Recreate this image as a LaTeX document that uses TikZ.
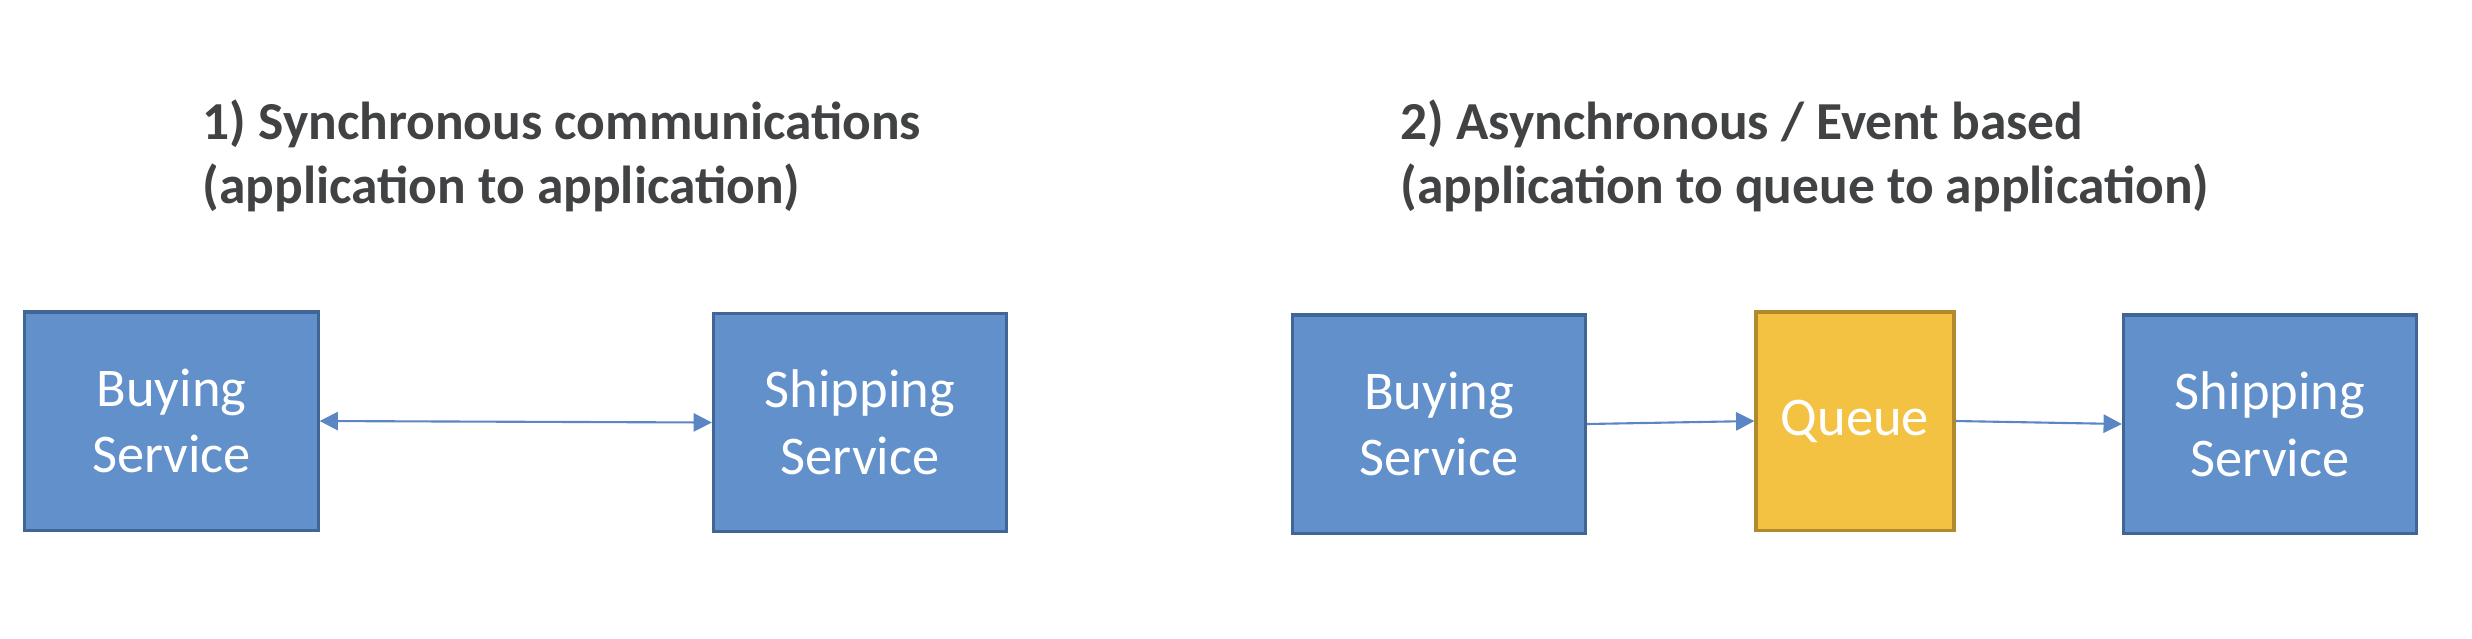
\documentclass[tikz,border=0pt]{standalone}
\usepackage{fontspec}
\setmainfont{Carlito}
\usepackage{tikz}
\usetikzlibrary{arrows.meta,positioning}
\definecolor{svcblue}{RGB}{98,144,203}
\definecolor{svcedge}{RGB}{65,101,148}
\definecolor{qyellow}{RGB}{244,194,67}
\definecolor{qedge}{RGB}{176,138,44}
\definecolor{arrblue}{RGB}{91,134,196}
\definecolor{titlegray}{RGB}{64,66,68}
\tikzset{
  svcnode/.style={rectangle,draw=svcedge,line width=0.9pt,fill=svcblue,text=white,
    minimum width=2.93cm,minimum height=2.18cm,align=center,inner sep=0pt,
    font=\fontsize{15.5}{19}\selectfont},
  queuenode/.style={svcnode,draw=qedge,fill=qyellow,minimum width=1.98cm},
  titlenode/.style={anchor=west,align=left,text=titlegray,inner sep=0pt,
    font=\fontsize{15.2}{18}\selectfont\bfseries},
  msgarrow/.style={-{Triangle[length=5.2pt,width=5.2pt]},line width=0.6pt,draw=arrblue}
}

\begin{document}
\begin{tikzpicture}[x=0.01cm,y=-0.01cm]
  \useasboundingbox (0,0) rectangle (2472,638);
  % 1) synchronous
  \node[titlenode] (title1) at (202,156)
    {1) Synchronous communications\\(application to application)};
  \node[svcnode] (buy1) at (171.5,421) {Buying\\Service};
  \node[svcnode] (ship1) at (860,422.5) {Shipping\\Service};
  \draw[msgarrow,{Triangle[length=5.2pt,width=5.2pt]}-{Triangle[length=5.2pt,width=5.2pt]}] (buy1.east) -- (ship1.west);
  % 2) asynchronous
  \node[titlenode] (title2) at (1400,156)
    {2) Asynchronous / Event based\\(application to queue to application)};
  \node[svcnode] (buy2) at (1439,424) {Buying\\Service};
  \node[queuenode] (queue) at (1855,421) {Queue};
  \node[svcnode] (ship2) at (2270,424) {Shipping\\Service};
  \draw[msgarrow] (buy2.east) -- (queue.west);
  \draw[msgarrow] (queue.east) -- (ship2.west);
\end{tikzpicture}
\end{document}
